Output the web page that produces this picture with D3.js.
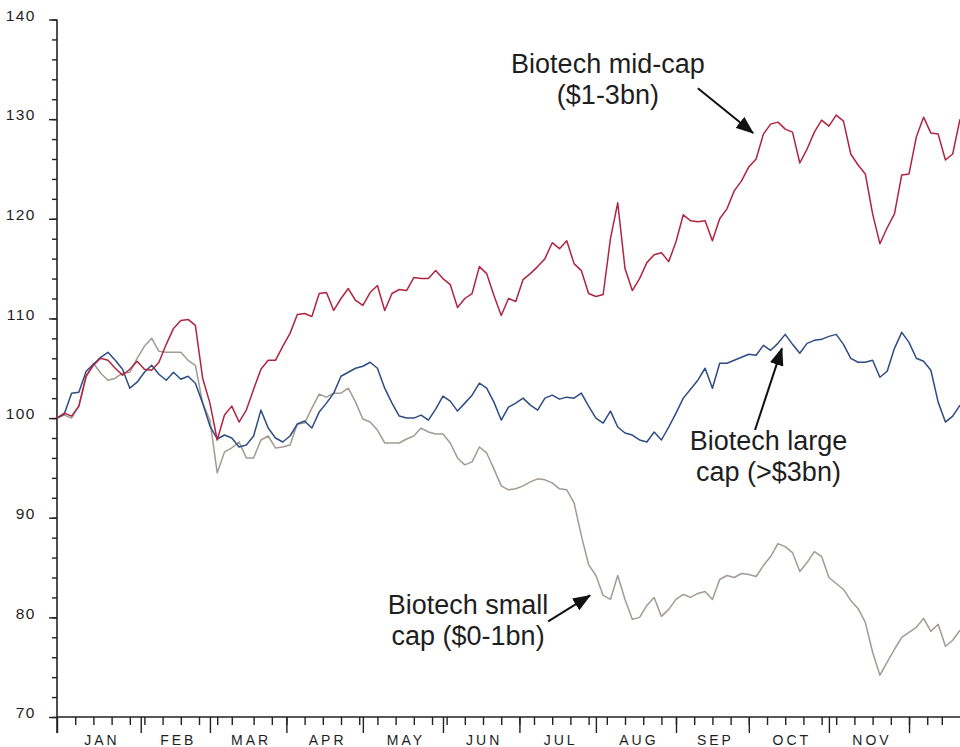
<!DOCTYPE html>
<html>
<head>
<meta charset="utf-8">
<script src="https://d3js.org/d3.v7.min.js"></script>
<style>
  body { margin: 0; background: #fff; }
  text { font-family: "Liberation Sans", Arial, Helvetica, sans-serif; fill: #1e1e1e; }
  .line { fill: none; stroke-width: 1.5; stroke-linejoin: round; }
  .red { stroke: #b02440; }
  .blue { stroke: #2d4c84; }
  .grey { stroke: #a39a92; }
</style>
</head>
<body>
<script>
// Trading-day index of every second day (0 .. 248)
var days = d3.range(0, 249, 2);

// Rebased index values
var midCap = [100,100.5,100.2,101.2,104.2,105.3,106,105.8,105,104.3,
  104.9,105.7,104.9,104.8,105.6,107.4,109,109.8,109.9,109.3,
  104,101.5,97.8,100.3,101.2,99.6,100.8,102.9,104.9,105.8,
  105.8,107.2,108.5,110.4,110.5,110.2,112.5,112.6,110.8,112,
  113,111.8,111.3,112.6,113.3,110.8,112.5,112.9,112.8,114.1,
  114,114,114.8,114,113.4,111.1,112,112.5,115.2,114.5,
  112.3,110.3,112,111.7,113.9,114.5,115.2,116,117.6,117,
  117.8,115.5,114.8,112.5,112.2,112.4,118,121.6,115,112.8,
  114,115.6,116.4,116.6,115.7,117.7,120.4,119.8,119.7,119.8,
  117.8,120,121,122.8,123.8,125.2,126,128.5,129.5,129.7,
  129,128.7,125.6,127,128.7,129.9,129.3,130.4,129.8,126.5,
  125.4,124.5,120.5,117.5,119.1,120.5,124.4,124.5,128.2,130.2,
  128.6,128.5,125.9,126.5,130];

var largeCap = [100,100.4,102.5,102.6,104.7,105.4,106.1,106.6,105.8,104.9,
  103,103.6,104.6,105.3,104.4,103.8,104.6,103.9,104.2,103.5,
  101.5,99.2,97.9,98.3,98,97.1,97.3,98.2,100.8,99,
  98,97.6,98.2,99.4,99.7,99,100.6,101.5,102.5,104.2,
  104.6,105,105.2,105.6,105,103,101.5,100.2,100,100,
  100.3,99.8,100.9,102.2,101.7,100.7,101.5,102.3,103.5,103,
  101.6,99.8,101.1,101.5,102,101.3,100.8,102,102.3,101.9,
  102.1,102,102.5,101.2,100,99.5,100.7,99.1,98.5,98.3,
  97.8,97.6,98.6,97.8,99.1,100.5,102,102.9,103.8,105,
  103,105.5,105.5,105.8,106.1,106.4,106.3,107.3,106.8,107.5,
  108.4,107.4,106.5,107.5,107.8,107.9,108.2,108.4,107.4,106,
  105.6,105.6,105.8,104.1,104.7,107,108.6,107.6,106,105.7,
  104.8,101.6,99.6,100.2,101.3];

var smallCap = [100,100.3,100,101.2,104.2,105.5,104.5,103.8,104,104.5,
  104.6,106,107.2,108,106.7,106.6,106.6,106.6,105.8,105.3,
  101.5,99.8,94.5,96.6,97,97.6,96,96,97.8,98.2,
  97,97.1,97.3,99.4,99.5,101,102.4,102.1,102.5,102.5,
  103,101.6,99.9,99.6,98.8,97.5,97.5,97.5,97.9,98.2,
  99,98.6,98.4,98.4,97.5,96,95.3,95.6,97.1,96.5,
  94.9,93.2,92.8,92.9,93.2,93.6,93.9,93.8,93.5,92.9,
  92.8,91.5,88.2,85.3,84.2,82.2,81.8,84.2,81.8,79.8,
  80,81.2,82,80.1,80.8,81.8,82.3,82,82.4,82.6,
  81.8,83.8,84.2,84,84.4,84.3,84.1,85.2,86.1,87.4,
  87.1,86.5,84.6,85.5,86.6,86.1,84,83.4,82.8,81.7,
  80.9,79.5,76.5,74.2,75.5,76.8,78,78.5,79,79.9,
  78.6,79.3,77.1,77.7,78.7];

// Axis ticks: month starts, weekly ticks, month labels
var monthStarts = [0, 23, 42, 63, 84, 106, 127, 148, 170, 190, 212, 234];
var monthLabels = ["JAN","FEB","MAR","APR","MAY","JUN","JUL","AUG","SEP","OCT","NOV"];
var weekTicks = [5,10,15,20,24,29,34,39,44,48,54,59,63,68,73,78,83,88,93,98,103,107,112,117,122,
  127,131,136,141,146,151,156,161,166,170,175,180,185,190,195,200,205,210,214,219,224,229,234,239,243];
var yMajor = d3.range(70, 141, 10);
var yMinor = d3.range(70, 141, 2);

// Annotations (x in trading days, y in index points)
var notes = [
  { lines: ["Biotech mid-cap", "($1-3bn)"], x: 151.3, y: 134.6, from: [176, 133.1], to: [191.2, 128.6] },
  { lines: ["Biotech large", "cap (>$3bn)"], x: 195.4, y: 96.8, from: [191.7, 98.8], to: [199.1, 107.0] },
  { lines: ["Biotech small", "cap ($0-1bn)"], x: 112.9, y: 80.35, from: [134.9, 79.6], to: [146.4, 82.2] }
];

var svgWidth = 960;
var svgHeight = 747;

var svg = d3.select("body")
  .append("svg")
  .attr("width", svgWidth)
  .attr("height", svgHeight);

// Scales
var xScale = d3.scaleLinear().domain([0, 248]).range([57, 960]);
var yScale = d3.scaleLinear().domain([70, 140]).range([717, 19.5]);

// Y axis: minor then major ticks
svg.append("g")
  .attr("transform", "translate(57,0)")
  .call(d3.axisLeft(yScale).tickValues(yMinor).tickSize(5).tickFormat(""))
  .call(g => g.select(".domain").remove());

var yAxis = svg.append("g")
  .attr("transform", "translate(57,0)")
  .call(d3.axisLeft(yScale).tickValues(yMajor).tickSize(8).tickPadding(13))
  .call(g => g.select(".domain").remove());

yAxis.selectAll("text")
  .attr("dy", "0.05em")
  .style("font-size", "15.5px")
  .style("letter-spacing", "1.5px")
  .style("font-family", "'Liberation Sans', Arial, sans-serif")
  .attr("fill", "#1e1e1e");

// X axis: weekly and month ticks
svg.append("g")
  .attr("transform", "translate(0,717)")
  .call(d3.axisBottom(xScale).tickValues(weekTicks).tickSize(8).tickFormat(""))
  .call(g => g.select(".domain").remove());

svg.append("g")
  .attr("transform", "translate(0,717)")
  .call(d3.axisBottom(xScale).tickValues(monthStarts).tickSize(16).tickFormat(""))
  .call(g => g.select(".domain").remove());

svg.selectAll(".tick line").attr("stroke", "#222").attr("stroke-width", 1.4);

// Axis lines
svg.append("line")
  .attr("x1", xScale(0)).attr("x2", xScale(248))
  .attr("y1", yScale(70)).attr("y2", yScale(70))
  .attr("stroke", "#222").attr("stroke-width", 1.6);

svg.append("line")
  .attr("x1", xScale(0)).attr("x2", xScale(0))
  .attr("y1", yScale(140)).attr("y2", yScale(70) + 16)
  .attr("stroke", "#222").attr("stroke-width", 1.6);

// Month labels centred in each month
svg.append("g").selectAll("text")
  .data(monthLabels)
  .enter()
  .append("text")
  .attr("x", (d, i) => (xScale(monthStarts[i]) + xScale(monthStarts[i + 1])) / 2 + 3)
  .attr("y", 745)
  .attr("text-anchor", "middle")
  .style("font-size", "14px")
  .style("letter-spacing", "3px")
  .text(d => d);

// Lines
var line = d3.line()
  .x((d, i) => xScale(days[i]))
  .y(d => yScale(d));

svg.append("path").datum(smallCap).attr("d", line).attr("class", "line grey");
svg.append("path").datum(largeCap).attr("d", line).attr("class", "line blue");
svg.append("path").datum(midCap).attr("d", line).attr("class", "line red");

// Arrow head
svg.append("defs").append("marker")
  .attr("id", "head")
  .attr("markerUnits", "userSpaceOnUse")
  .attr("viewBox", "0 0 18 14")
  .attr("refX", 17).attr("refY", 7)
  .attr("markerWidth", 18).attr("markerHeight", 14)
  .attr("orient", "auto")
  .append("path")
  .attr("d", "M0,0 L18,7 L0,14 Z")
  .attr("fill", "#111");

var noteGroup = svg.append("g").selectAll("g")
  .data(notes)
  .enter()
  .append("g");

noteGroup.append("line")
  .attr("x1", d => xScale(d.from[0]))
  .attr("y1", d => yScale(d.from[1]))
  .attr("x2", d => xScale(d.to[0]))
  .attr("y2", d => yScale(d.to[1]))
  .attr("stroke", "#111")
  .attr("stroke-width", 2)
  .attr("marker-end", "url(#head)");

noteGroup.append("text")
  .attr("x", d => xScale(d.x))
  .attr("y", d => yScale(d.y))
  .attr("text-anchor", "middle")
  .style("font-size", "27px")
  .selectAll("tspan")
  .data(d => d.lines)
  .enter()
  .append("tspan")
  .attr("x", function() { return this.parentNode.getAttribute("x"); })
  .attr("dy", (d, i) => i === 0 ? 0 : 31)
  .text(d => d);
</script>
</body>
</html>
